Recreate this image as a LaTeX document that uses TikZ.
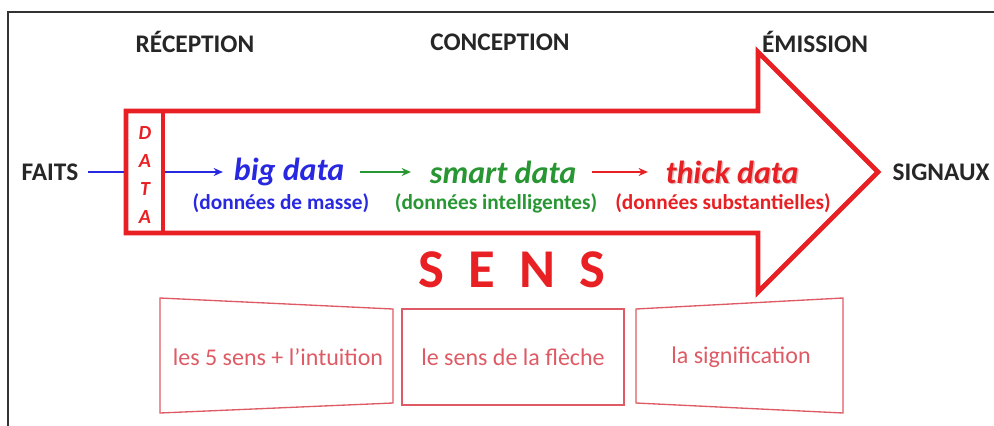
\documentclass[tikz,border=0pt]{standalone}
\usepackage{fontspec}
\setmainfont{Carlito}
\usetikzlibrary{arrows.meta}
\definecolor{sred}{RGB}{232,32,36}
\definecolor{sblue}{RGB}{40,40,225}
\definecolor{sgreen}{RGB}{40,150,50}
\definecolor{spink}{RGB}{222,90,100}
\begin{document}
\begin{tikzpicture}[x=0.75pt,y=-0.75pt,
  head/.style={font=\bfseries\fontsize{19}{22}\selectfont, text=black!85, inner sep=2pt},
  term/.style={font=\bfseries\itshape\fontsize{24}{26}\selectfont, inner sep=2pt},
  gloss/.style={font=\bfseries\fontsize{16}{18}\selectfont, inner sep=1pt},
  conn/.style={line width=1.5pt,-{Stealth[length=7pt,width=6pt]}},
  sensbox/.style={draw=spink, line width=1pt},
  senstext/.style={text=spink, font=\fontsize{18}{20}\selectfont},
]
\useasboundingbox (0,0) rectangle (994,425);
% outer frame
\draw[line width=2pt, black!80] (8,440) -- (8,12) -- (1010,12);

% headings
\node[head] (rec) at (195,42) {RÉCEPTION};
\node[head] (con) at (500,42) {CONCEPTION};
\node[head] (emi) at (815,42) {ÉMISSION};

% big arrow
\draw[sred, line width=3.5pt, line join=miter]
  (126,111) -- (758,111) -- (758,52) -- (878,172) -- (758,292) -- (758,233) -- (126,233) -- cycle;
\node (data) [draw=sred, line width=3.5pt, minimum width=27.75pt, minimum height=91.5pt, inner sep=0] at (144.5,172) {};
\node (dataletters) [text=sred, font=\bfseries\itshape\fontsize{15}{21}\selectfont, align=center, inner sep=0] at (145,175) {D\\A\\T\\A};

% ends
\node[head] (faits) at (50,172) {FAITS};
\node[head] (sig) at (941,172) {SIGNAUX};

% terms
\node[term, text=sblue] (big) at (289,172) {big data};
\node[term, text=sgreen] (smart) at (503,172) {smart data};
\node[term, text=sred!50!black, opacity=0.25] at (733.5,173.5) {thick data};
\node[term, text=sred] (thick) at (732,172) {thick data};

\node[gloss, text=sblue] (g1) at (281,203) {(données de masse)};
\node[gloss, text=sgreen] (g2) at (496,203) {(données intelligentes)};
\node[gloss, text=sred] (g3) at (723,203) {(données substantielles)};

% connectors
\draw[sblue, line width=1.5pt, shorten <=5pt] (faits.east) -- (data.west);
\draw[conn, sblue, shorten >=6pt] (data.east) -- (big.west);
\draw[conn, sgreen, shorten <=10pt, shorten >=12pt] (big.east) -- (smart.west);
\draw[conn, sred, shorten <=10pt, shorten >=11pt] (smart.east) -- (thick.west);

% SENS
\node[text=sred, font=\bfseries\fontsize{41}{44}\selectfont] (sens) at (512,270) {S\hspace{18pt}E\hspace{18pt}N\hspace{18pt}S};

% boxes
\draw[sensbox] (160,298) -- (393,309) -- (393,403) -- (160,413) -- cycle;
\draw[sensbox] (402,309) rectangle (624,405);
\draw[sensbox] (636,309) -- (843,298) -- (843,413) -- (636,403) -- cycle;
\node[senstext] (s1) at (278,357) {les 5 sens + l’intuition};
\node[senstext] (s2) at (513,357) {le sens de la flèche};
\node[senstext] (s3) at (741,357) {la signification};
\end{tikzpicture}
\end{document}
